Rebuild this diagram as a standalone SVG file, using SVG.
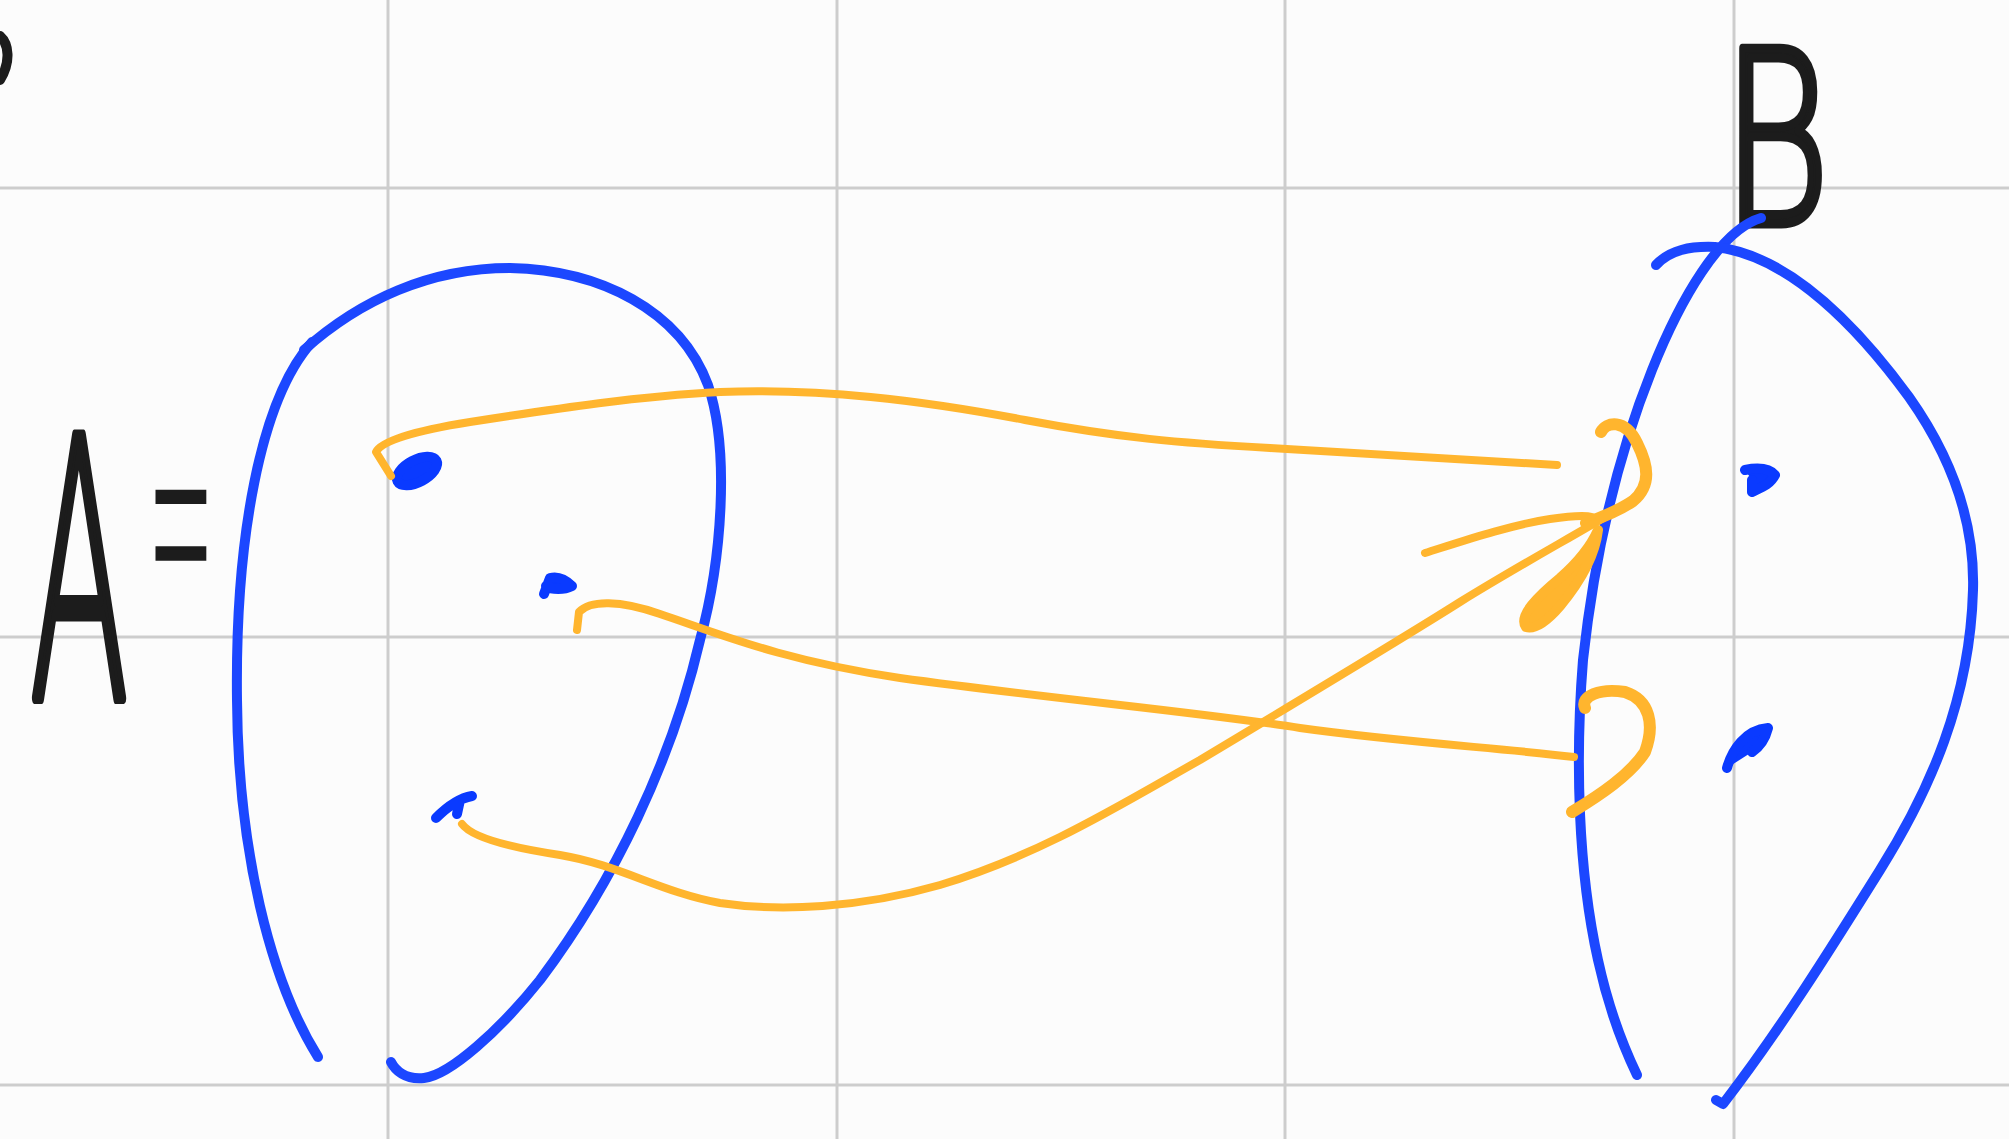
<svg xmlns="http://www.w3.org/2000/svg" width="2009" height="1139" viewBox="0 0 2009 1139">
<style>
.grid{stroke:#cdcdcd;stroke-width:3;fill:none}
.blue{stroke:#1c47ff;stroke-width:10;fill:none;stroke-linecap:round;stroke-linejoin:round}
.dot{stroke:#0a3aff;stroke-width:10;fill:#0a3aff;stroke-linecap:round;stroke-linejoin:round}
.or{stroke:#ffb52e;stroke-width:8;fill:none;stroke-linecap:round;stroke-linejoin:round}
.orb{stroke:#ffb52e;stroke-width:12;fill:none;stroke-linecap:round;stroke-linejoin:round}
.hand{font-family:"DejaVu Sans","Liberation Sans",sans-serif;font-weight:200;fill:#1c1c1c;stroke:#1c1c1c;stroke-linejoin:round}
</style>
<rect width="2009" height="1139" fill="#fcfcfc"/>
<g id="grid">
<line class="grid" x1="388" y1="0" x2="388" y2="1139"/>
<line class="grid" x1="837" y1="0" x2="837" y2="1139"/>
<line class="grid" x1="1285" y1="0" x2="1285" y2="1139"/>
<line class="grid" x1="1734" y1="0" x2="1734" y2="1139"/>
<line class="grid" x1="0" y1="188" x2="2009" y2="188"/>
<line class="grid" x1="0" y1="637" x2="2009" y2="637"/>
<line class="grid" x1="0" y1="1085" x2="2009" y2="1085"/>
</g>
<path d="M0,36 C9,44 11,62 0,80" stroke="#1c1c1c" stroke-width="10" fill="none" stroke-linecap="round"/>
<g id="setA">
<text class="hand" transform="translate(30,698) scale(0.4,1)" font-size="360" stroke-width="12">A<tspan dx="46" dy="-60" textLength="170" lengthAdjust="spacingAndGlyphs" stroke-width="0">=</tspan></text>
<path class="blue" d="M312,342 C260,400 235,540 237,700 C238,850 270,980 318,1057"/>
<path class="blue" d="M304,350 C360,300 430,268 510,268 C600,270 680,310 708,385 C730,450 722,560 700,640 C672,760 615,880 540,980 C500,1030 450,1075 424,1078 C405,1080 395,1070 391,1062"/>
<ellipse class="dot" cx="417" cy="471" rx="22" ry="11" transform="rotate(-28 417 471)"/>
<path class="dot" d="M544,594 L550,578 C558,576 566,580 572,586 C564,590 552,590 546,586"/>
<path class="dot" d="M436,818 C448,806 460,798 472,796 M460,800 L457,814"/>
</g>
<g id="setB">
<text class="hand" x="1722" y="224" font-size="240" textLength="108" lengthAdjust="spacingAndGlyphs" stroke-width="9">B</text>
<path class="blue" d="M1761,218 C1720,230 1680,300 1652,370 C1620,450 1595,550 1583,660 C1575,760 1578,870 1598,960 C1610,1015 1625,1050 1637,1075"/>
<path class="blue" d="M1656,265 C1670,250 1690,246 1715,247 C1790,255 1860,330 1909,397 C1950,455 1975,520 1973,590 C1970,700 1930,790 1880,870 C1830,950 1780,1030 1723,1104 L1716,1100"/>
<path class="dot" d="M1745,470 C1755,468 1768,467 1775,475 C1770,485 1760,488 1752,492 L1752,480"/>
<path class="dot" d="M1727,768 C1732,750 1745,730 1768,728 C1765,740 1758,748 1752,752"/>
</g>
<g id="connectors">
<path class="or" d="M391,476 L376,452 C382,440 420,430 470,422 C560,408 640,396 720,392 C820,388 920,400 1025,420 C1120,438 1180,443 1270,448 C1380,454 1480,460 1557,465"/>
<path class="orb" d="M1601,432 C1606,422 1625,418 1637,443 C1648,465 1652,485 1633,501 C1620,510 1600,518 1586,523"/>
<path class="or" d="M577,630 L579,612 C590,600 620,600 660,614 C720,634 780,660 900,678 C1060,700 1200,712 1300,728 C1400,742 1500,748 1574,757"/>
<path class="orb" d="M1585,708 C1580,696 1600,688 1625,692 C1650,700 1655,725 1645,752 C1630,775 1600,795 1572,812"/>
<path class="or" d="M462,824 C470,835 500,846 560,855 C620,865 660,892 720,903 C780,912 860,908 940,885 C1040,855 1120,805 1200,760 C1300,700 1400,640 1460,602 C1520,565 1570,538 1610,514"/>
<path class="or" d="M1425,553 C1460,542 1510,525 1550,519 C1570,516 1585,515 1592,517"/>
<path d="M1526,627 C1518,616 1538,596 1560,578 C1576,564 1590,548 1598,530 C1595,556 1580,582 1560,606 C1548,620 1536,630 1526,627 Z" fill="#ffb52e" stroke="#ffb52e" stroke-width="10" stroke-linejoin="round"/>
</g>
</svg>
